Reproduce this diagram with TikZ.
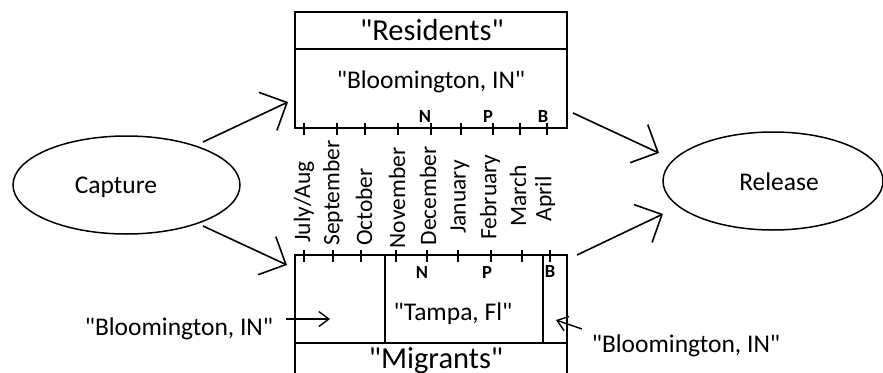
\documentclass[tikz,border=0pt]{standalone}
\usepackage{fontspec}
\setmainfont{Carlito}[Ligatures=TeXOff]
\usetikzlibrary{arrows.meta,shapes.geometric}
\begin{document}
\begin{tikzpicture}[x=1pt,y=-1pt,
  boxline/.style={line width=2.2pt},
  tickline/.style={line width=1.6pt},
  oval/.style={draw,ellipse,line width=1.5pt,inner sep=0pt},
  bigarrow/.style={line width=1.6pt,-{Straight Barb[length=21pt,width=42pt]}},
  smallarrow/.style={line width=1.4pt,-{Straight Barb[length=10pt,width=15pt]}},
  txtbig/.style={font=\fontsize{30.5}{36}\selectfont,inner sep=0pt,anchor=base},
  txtmed/.style={font=\fontsize{25.5}{30}\selectfont,inner sep=0pt,anchor=base},
  txtsmall/.style={font=\fontsize{18.5}{22}\selectfont\bfseries,inner sep=0pt,anchor=base},
  txtmonth/.style={font=\fontsize{23.5}{28}\selectfont,inner sep=0pt,rotate=90}]
\useasboundingbox (0,0) rectangle (883,372);
\clip (0,0) rectangle (883,372);
% Residents box
\draw[boxline] (295,12) rectangle (567,128);
\draw[boxline] (295,49) -- (567,49);
\foreach \x in {304,337,365,398,431,461,493,520,547}
  \draw[tickline] (\x,123) -- (\x,135);
\node[txtbig] (res) at (432,40) {"Residents"};
\node[txtmed] (resloc) at (431,88) {"Bloomington, IN"};
\node[txtsmall] (rN) at (425,122) {N};
\node[txtsmall] (rP) at (488,122) {P};
\node[txtsmall] (rB) at (543,122) {B};
% Migrants box
\draw[boxline] (295,255) rectangle (567,400);
\draw[boxline] (295,343) -- (567,343);
\draw[boxline] (385,255) -- (385,343);
\draw[boxline] (543,255) -- (543,343);
\foreach \x in {304,333,361,396,427,458,491,522,550}
  \draw[tickline] (\x,250) -- (\x,262);
\node[txtsmall] (mN) at (422,278) {N};
\node[txtsmall] (mP) at (487,278) {P};
\node[txtsmall] (mB) at (550,277) {B};
\node[txtmed] (tampa) at (453,320) {"Tampa, Fl"};
\node[txtbig] (mig) at (436,368) {"Migrants"};
% months
\node[txtmonth] (m1) at (304,202) {July/Aug};
\node[txtmonth] (m2) at (333,193) {September};
\node[txtmonth] (m3) at (364,207) {October};
\node[txtmonth] (m4) at (397,198) {November};
\node[txtmonth] (m5) at (428,196) {December};
\node[txtmonth] (m6) at (460,197) {January};
\node[txtmonth] (m7) at (490,197) {February};
\node[txtmonth] (m8) at (518,196) {March};
\node[txtmonth] (m9) at (545,199) {April};
% ellipses
\node[oval,minimum width=227pt,minimum height=98pt] (cap) at (126.5,185) {};
\node[txtmed] (captxt) at (116,193) {Capture};
\node[oval,minimum width=220pt,minimum height=98pt] (rel) at (773,181) {};
\node[txtmed] (reltxt) at (779,190) {Release};
% side labels
\node[txtmed] (lbl1) at (179,335) {"Bloomington, IN"};
\node[txtmed] (lbl2) at (686,352) {"Bloomington, IN"};
% connector coordinates
\coordinate (capTR) at (203,142);
\coordinate (resIn) at (288,102);
\coordinate (capBR) at (203,226);
\coordinate (migIn) at (287,265);
\coordinate (resOut) at (573,113);
\coordinate (relInT) at (659,153);
\coordinate (migOut) at (577,255);
\coordinate (relInB) at (663,214);
\coordinate (bl1s) at (286,319);
\coordinate (bl1e) at (330,319);
\coordinate (bl2s) at (582,329);
\coordinate (bl2e) at (556,320);
\draw[bigarrow] (capTR) -- (resIn);
\draw[bigarrow] (capBR) -- (migIn);
\draw[bigarrow] (resOut) -- (relInT);
\draw[bigarrow] (migOut) -- (relInB);
\draw[smallarrow] (bl1s) -- (bl1e);
\draw[smallarrow] (bl2s) -- (bl2e);
\end{tikzpicture}
\end{document}
